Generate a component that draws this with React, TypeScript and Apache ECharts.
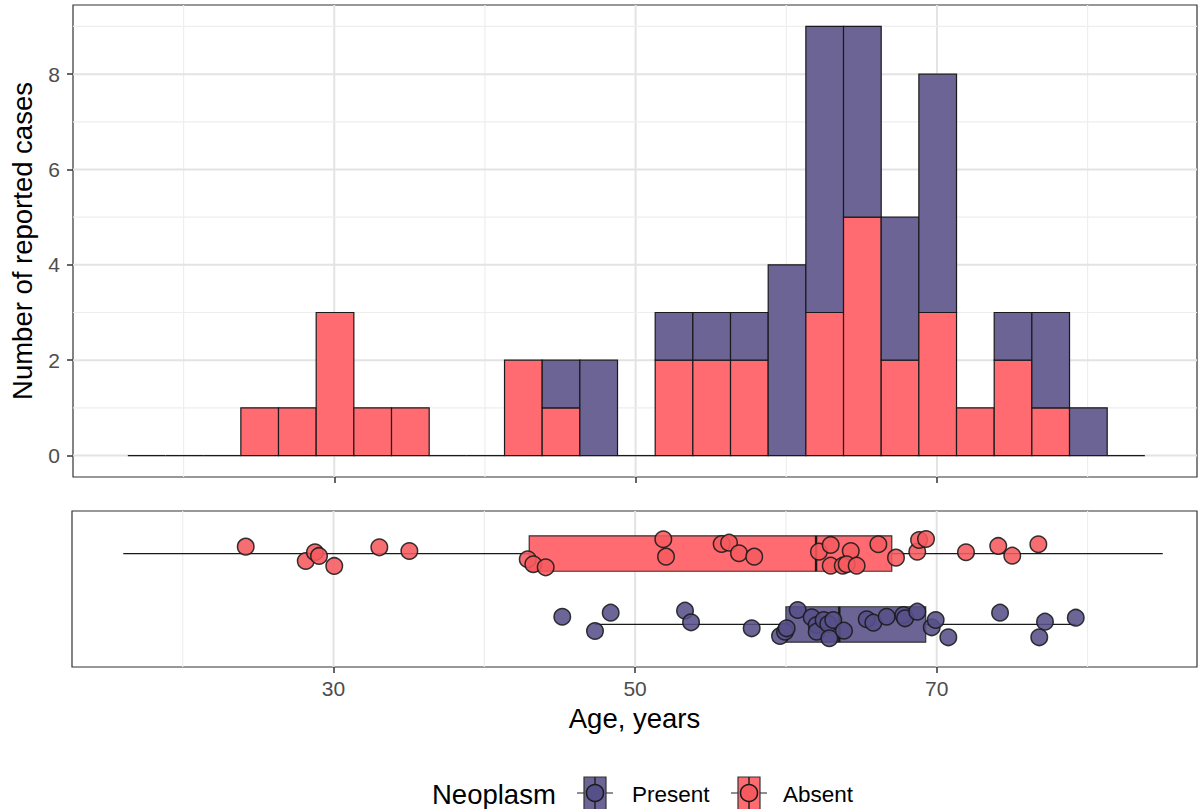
import React, { useEffect, useRef } from "react";
import * as echarts from "echarts";

const FONT = '"Liberation Sans", Arial, Helvetica, sans-serif';

// Axis extents (ggplot-style expanded ranges)
const AGE_MIN = 12.66;
const AGE_MAX = 87.26;
const COUNT_MIN = -0.45;
const COUNT_MAX = 9.45;
const CAT_MIN = 0.4;
const CAT_MAX = 2.6;

// Tick labels
const ageTicks = [30, 50, 70];
const ageMinor = [20, 40, 60, 80];
const countTicks = [0, 2, 4, 6, 8];
const countMinor = [1, 3, 5, 7, 9];

// Histogram (binwidth 2.5 years)
const binWidth = 2.5;
const binStarts = [
  16.3, 18.8, 21.3, 23.8, 26.3, 28.8, 31.3, 33.8, 36.3, 38.8, 41.3, 43.8, 46.3, 48.8,
  51.3, 53.8, 56.3, 58.8, 61.3, 63.8, 66.3, 68.8, 71.3, 73.8, 76.3, 78.8, 81.3,
];
const absentCounts = [0, 0, 0, 1, 1, 3, 1, 1, 0, 0, 2, 1, 0, 0, 2, 2, 2, 0, 3, 5, 2, 3, 1, 2, 1, 0, 0];
const presentCounts = [0, 0, 0, 0, 0, 0, 0, 0, 0, 0, 0, 1, 2, 0, 1, 1, 1, 4, 6, 4, 3, 5, 0, 1, 2, 1, 0];

// Boxplot stats: [lower whisker, Q1, median, Q3, upper whisker]
const absentBox = [16.06, 42.98, 62.0, 67.02, 84.99];
const presentBox = [47.34, 60.0, 63.54, 69.27, 79.22];
const ABSENT_Y = 2;
const PRESENT_Y = 1;

// Jittered points: [age, y]
const absentPoints = [
  [24.18, 2.097], [28.16, 1.895], [28.77, 2.018], [29.04, 1.966], [30.05, 1.825],
  [33.04, 2.088], [35.03, 2.036], [42.88, 1.919], [43.25, 1.849], [44.07, 1.806],
  [51.87, 2.201], [52.05, 1.956], [55.74, 2.135], [56.23, 2.153], [56.89, 2.004],
  [57.9, 1.956], [62.19, 2.026], [62.97, 2.121], [64.3, 2.036], [62.97, 1.829],
  [63.77, 1.829], [64.03, 1.849], [64.69, 1.829], [66.13, 2.131], [67.3, 1.942],
  [68.71, 2.026], [68.83, 2.191], [69.29, 2.205], [71.94, 2.018], [74.08, 2.107],
  [75.01, 1.97], [76.74, 2.131],
];
const presentPoints = [
  [45.17, 1.109], [47.34, 0.908], [48.38, 1.166], [53.31, 1.194], [53.71, 1.03],
  [57.73, 0.946], [59.61, 0.837], [59.94, 0.898], [60.05, 0.946], [60.78, 1.204],
  [61.71, 1.101], [62.04, 0.992], [62.04, 0.898], [62.5, 1.063], [62.81, 1.006],
  [63.14, 1.063], [62.88, 0.805], [63.85, 0.912], [65.36, 1.073], [65.8, 1.025],
  [66.68, 1.109], [67.79, 1.133], [67.9, 1.087], [68.71, 1.18], [69.67, 0.96],
  [69.93, 1.063], [70.77, 0.819], [74.2, 1.166], [77.18, 1.039], [76.8, 0.819],
  [79.22, 1.095],
];

const RED_FILL = "#ff6b70";
const PURPLE_FILL = "#6b6494";
const RED_POINT = "#f65a5e";
const PURPLE_POINT = "#56508a";
const OUTLINE = "#1a1a1a";

function gridLineItems(withHorizontal: boolean) {
  const items: number[][] = [];
  ageMinor.forEach((v) => items.push([v, 1]));
  ageTicks.forEach((v) => items.push([v, 0]));
  if (withHorizontal) {
    countMinor.forEach((v) => items.push([v, 3]));
    countTicks.forEach((v) => items.push([v, 2]));
  }
  return items;
}

function makeGridRender(yMin: number, yMax: number) {
  return (params: any, api: any) => {
    const v = api.value(0);
    const kind = api.value(1);
    let p1, p2;
    if (kind < 2) {
      p1 = api.coord([v, yMin]);
      p2 = api.coord([v, yMax]);
    } else {
      p1 = api.coord([AGE_MIN, v]);
      p2 = api.coord([AGE_MAX, v]);
    }
    const major = kind === 0 || kind === 2;
    return {
      type: "line",
      shape: { x1: p1[0], y1: p1[1], x2: p2[0], y2: p2[1] },
      style: { stroke: major ? "#e3e3e3" : "#eeeeee", lineWidth: major ? 2 : 1.2 },
      silent: true,
    };
  };
}

function renderHist(params: any, api: any) {
  const s = api.value(0);
  const a = api.value(1);
  const p = api.value(2);
  const e = s + binWidth;
  const base = api.coord([s, 0]);
  const right = api.coord([e, 0]);
  if (a + p === 0) {
    return {
      type: "line",
      shape: { x1: base[0], y1: base[1], x2: right[0], y2: right[1] },
      style: { stroke: OUTLINE, lineWidth: 1.3 },
    };
  }
  const children: any[] = [];
  const w = right[0] - base[0];
  if (a > 0) {
    const top = api.coord([s, a]);
    children.push({
      type: "rect",
      shape: { x: base[0], y: top[1], width: w, height: base[1] - top[1] },
      style: { fill: RED_FILL, stroke: OUTLINE, lineWidth: 1.2 },
    });
  }
  if (p > 0) {
    const bot = api.coord([s, a]);
    const top = api.coord([s, a + p]);
    children.push({
      type: "rect",
      shape: { x: base[0], y: top[1], width: w, height: bot[1] - top[1] },
      style: { fill: PURPLE_FILL, stroke: OUTLINE, lineWidth: 1.2 },
    });
  }
  return { type: "group", children };
}

function renderBox(params: any, api: any) {
  const yc = api.value(0);
  const lo = api.value(1);
  const q1 = api.value(2);
  const med = api.value(3);
  const q3 = api.value(4);
  const hi = api.value(5);
  const fill = yc === ABSENT_Y ? RED_FILL : PURPLE_FILL;
  const c = (x: number, y: number) => api.coord([x, y]);
  const pLo = c(lo, yc);
  const pQ1 = c(q1, yc);
  const pQ3 = c(q3, yc);
  const pHi = c(hi, yc);
  const bTop = c(q1, yc + 0.25);
  const bBot = c(q3, yc - 0.25);
  const mTop = c(med, yc + 0.25);
  const mBot = c(med, yc - 0.25);
  return {
    type: "group",
    children: [
      {
        type: "line",
        shape: { x1: pLo[0], y1: pLo[1], x2: pQ1[0], y2: pQ1[1] },
        style: { stroke: OUTLINE, lineWidth: 1.2 },
      },
      {
        type: "line",
        shape: { x1: pQ3[0], y1: pQ3[1], x2: pHi[0], y2: pHi[1] },
        style: { stroke: OUTLINE, lineWidth: 1.2 },
      },
      {
        type: "rect",
        shape: { x: bTop[0], y: bTop[1], width: bBot[0] - bTop[0], height: bBot[1] - bTop[1] },
        style: { fill, stroke: "#333333", lineWidth: 1.2 },
      },
      {
        type: "line",
        shape: { x1: mTop[0], y1: mTop[1], x2: mBot[0], y2: mBot[1] },
        style: { stroke: OUTLINE, lineWidth: 2.4 },
      },
    ],
  };
}

function legendKey(cx: number, cy: number, fill: string, point: string) {
  return [
    { type: "line", shape: { x1: cx - 18, y1: cy, x2: cx + 18, y2: cy }, style: { stroke: "#222", lineWidth: 1.2 } },
    {
      type: "rect",
      shape: { x: cx - 11, y: cy - 16, width: 22, height: 33 },
      style: { fill, stroke: "#333", lineWidth: 1.2 },
    },
    { type: "line", shape: { x1: cx, y1: cy - 16, x2: cx, y2: cy + 17 }, style: { stroke: "#222", lineWidth: 1.5 } },
    { type: "circle", shape: { cx, cy, r: 8.5 }, style: { fill: point, stroke: OUTLINE, lineWidth: 1.5 } },
  ];
}

export default function App() {
  const ref = useRef<HTMLDivElement>(null);
  useEffect(() => {
    const chart = echarts.init(ref.current!, null, { renderer: "svg" });
    const axisTickStyle = { color: "#333333", width: 1.5 };
    const option: any = {
      animation: false,
      backgroundColor: "#ffffff",
      textStyle: { fontFamily: FONT },
      grid: [
        { left: 72, top: 5, width: 1125, height: 472, show: true, borderColor: "#333333", borderWidth: 1.2, backgroundColor: "transparent" },
        { left: 72, top: 511, width: 1125, height: 156, show: true, borderColor: "#333333", borderWidth: 1.2, backgroundColor: "transparent" },
      ],
      xAxis: [
        {
          type: "value", gridIndex: 0, min: AGE_MIN, max: AGE_MAX, position: "bottom",
          axisLine: { show: false, onZero: false },
          axisTick: { show: true, customValues: ageTicks, length: 6, lineStyle: axisTickStyle },
          axisLabel: { show: false },
          splitLine: { show: false },
        },
        {
          type: "value", gridIndex: 1, min: AGE_MIN, max: AGE_MAX, position: "bottom",
          axisLine: { show: false, onZero: false },
          axisTick: { show: true, customValues: ageTicks, length: 6, lineStyle: axisTickStyle },
          axisLabel: { show: true, customValues: ageTicks, fontSize: 21, color: "#4d4d4d", margin: 11, fontFamily: FONT },
          splitLine: { show: false },
          name: "Age, years",
          nameLocation: "middle",
          nameGap: 37,
          nameTextStyle: { fontSize: 27.5, color: "#000000", fontFamily: FONT },
        },
      ],
      yAxis: [
        {
          type: "value", gridIndex: 0, min: COUNT_MIN, max: COUNT_MAX, position: "left",
          axisLine: { show: false, onZero: false },
          axisTick: { show: true, customValues: countTicks, length: 6, lineStyle: axisTickStyle },
          axisLabel: { show: true, customValues: countTicks, fontSize: 21, color: "#4d4d4d", margin: 13, fontFamily: FONT },
          splitLine: { show: false },
          name: "Number of reported cases",
          nameLocation: "middle",
          nameGap: 37,
          nameTextStyle: { fontSize: 27.5, color: "#000000", fontFamily: FONT },
        },
        {
          type: "value", gridIndex: 1, min: CAT_MIN, max: CAT_MAX, position: "left",
          axisLine: { show: false, onZero: false },
          axisTick: { show: false },
          axisLabel: { show: false },
          splitLine: { show: false },
        },
      ],
      series: [
        {
          type: "custom", name: "gridTop", xAxisIndex: 0, yAxisIndex: 0, z: 0, silent: true,
          renderItem: makeGridRender(COUNT_MIN, COUNT_MAX),
          data: gridLineItems(true),
        },
        {
          type: "custom", name: "gridBottom", xAxisIndex: 1, yAxisIndex: 1, z: 0, silent: true,
          renderItem: makeGridRender(CAT_MIN, CAT_MAX),
          data: gridLineItems(false),
        },
        {
          type: "custom", name: "histogram", xAxisIndex: 0, yAxisIndex: 0, z: 2,
          renderItem: renderHist,
          data: binStarts.map((s, i) => [s, absentCounts[i], presentCounts[i]]),
        },
        {
          type: "custom", name: "boxplot", xAxisIndex: 1, yAxisIndex: 1, z: 2,
          renderItem: renderBox,
          encode: { x: [1, 2, 3, 4, 5], y: 0 },
          data: [[ABSENT_Y, ...absentBox], [PRESENT_Y, ...presentBox]],
        },
        {
          type: "scatter", name: "Absent", xAxisIndex: 1, yAxisIndex: 1, z: 3,
          symbolSize: 16.5,
          itemStyle: { color: RED_POINT, borderColor: OUTLINE, borderWidth: 1.5, opacity: 0.88 },
          data: absentPoints,
        },
        {
          type: "scatter", name: "Present", xAxisIndex: 1, yAxisIndex: 1, z: 3,
          symbolSize: 16.5,
          itemStyle: { color: PURPLE_POINT, borderColor: OUTLINE, borderWidth: 1.5, opacity: 0.88 },
          data: presentPoints,
        },
      ],
      graphic: [
        {
          type: "group",
          children: [
            { type: "text", x: 432, y: 794, style: { text: "Neoplasm", fontSize: 27.5, fontFamily: FONT, fill: "#000", verticalAlign: "middle", align: "left" } },
            ...legendKey(595, 793, PURPLE_FILL, PURPLE_POINT),
            { type: "text", x: 632, y: 794, style: { text: "Present", fontSize: 22.5, fontFamily: FONT, fill: "#000", verticalAlign: "middle", align: "left" } },
            ...legendKey(749, 793, RED_FILL, RED_POINT),
            { type: "text", x: 783, y: 794, style: { text: "Absent", fontSize: 22.5, fontFamily: FONT, fill: "#000", verticalAlign: "middle", align: "left" } },
          ],
        },
      ],
    };
    chart.setOption(option);
    return () => chart.dispose();
  }, []);
  return (
    <div
      ref={ref}
      style={{ position: "fixed", left: 0, top: 0, width: 1199, height: 809, background: "#fff" }}
    />
  );
}
